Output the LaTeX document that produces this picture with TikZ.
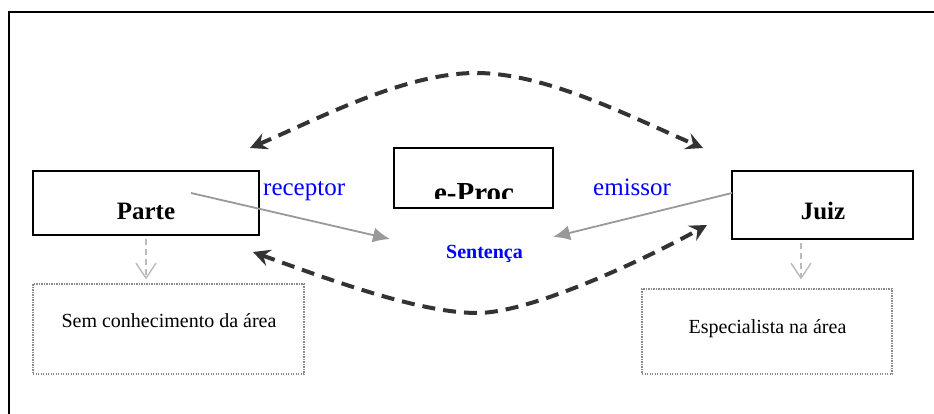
\documentclass[tikz,border=0pt]{standalone}
\usepackage{fontspec}
\setmainfont{Liberation Serif}
\usetikzlibrary{arrows.meta}
\definecolor{darkline}{HTML}{333333}
\definecolor{grayarrow}{HTML}{999999}
\definecolor{lightarrow}{HTML}{BBBBBB}
\definecolor{dotgray}{HTML}{8A8A8A}
\definecolor{textblue}{HTML}{0000FF}
\tikzset{
  mainbox/.style={draw=black, line width=1.6pt, rectangle, inner sep=0pt},
  dotbox/.style={draw=dotgray, line width=1.2pt, dash pattern=on 1.2pt off 1.3pt, rectangle, inner sep=0pt},
  txt/.style={inner sep=0pt, anchor=base},
  bigbold/.style={font=\fontsize{25}{30}\selectfont\bfseries},
  bluelabel/.style={font=\fontsize{25}{30}\selectfont, text=textblue},
  smalltxt/.style={font=\fontsize{20}{24}\selectfont},
  flowarrow/.style={draw=grayarrow, line width=1.8pt, -{Latex[length=17pt,width=15pt]}},
  downarrow/.style={draw=lightarrow, line width=1.4pt, dash pattern=on 6pt off 4pt, -{Straight Barb[length=15pt,width=20pt,line width=1.4pt]}},
  exchange/.style={draw=darkline, line width=4pt, dash pattern=on 13pt off 8pt, {Stealth[length=17pt,width=17pt,inset=6pt]}-{Stealth[length=17pt,width=17pt,inset=6pt]}}
}
\begin{document}
\begin{tikzpicture}[x=1pt,y=-1pt]
\useasboundingbox (0,0) rectangle (934,414);
% frame
\draw[line width=1.6pt, black] (9,414) -- (9,12) -- (934,12);

% boxes
\node[mainbox, minimum width=226pt, minimum height=64pt] (parte) at (146,203) {};
\node[mainbox, minimum width=181pt, minimum height=68pt] (juiz) at (822.5,205) {};
\node[mainbox, minimum width=159pt, minimum height=60pt] (eproc) at (473.5,178) {};
\node[dotbox, minimum width=271pt, minimum height=90pt] (sem) at (168.5,329) {};
\node[dotbox, minimum width=250pt, minimum height=85pt] (esp) at (767,331.5) {};

% texts
\node[txt, bigbold] (partetxt) at (146,219) {Parte};
\node[txt, bigbold] (juiztxt) at (823,219) {Juiz};
\begin{scope}
  \clip (394,150) rectangle (553,199);
  \node[txt, font=\fontsize{29}{34}\selectfont\bfseries] (eproctxt) at (474,203) {e-Proc};
\end{scope}
\node[txt, bluelabel, anchor=base west] (receptor) at (263,196) {receptor};
\node[txt, bluelabel, anchor=base west] (emissor) at (593,196) {emissor};
\node[txt, anchor=base west, font=\fontsize{20}{24}\selectfont\bfseries, text=textblue] (sentenca) at (446,258) {Sentença};
\node[txt, smalltxt] (semtxt) at (169,327) {Sem conhecimento da área};
\node[txt, smalltxt] (esptxt) at (767.5,333) {Especialista na área};

% connector points
\coordinate (pstart) at (191,193);
\coordinate (pend) at (390,239);
\coordinate (jstart) at (732,193);
\coordinate (jend) at (553,237);
\coordinate (tl) at (250,148);
\coordinate (tr) at (703,148);
\coordinate (tp) at (476,73);
\coordinate (bl) at (253,252);
\coordinate (br) at (707,225);
\coordinate (bp) at (477,313);
\coordinate (jdown) at ([xshift=-21.5pt]juiz.south);

% gray flow arrows
\draw[flowarrow] (pstart) -- (pend);
\draw[flowarrow] (jstart) -- (jend);

% light dashed down arrows
\draw[downarrow, shorten <=3pt, shorten >=4pt] (parte.south) -- (parte.south |- sem.north);
\draw[downarrow, shorten <=3pt, shorten >=9pt] (jdown) -- (jdown |- esp.north);

% dark dashed exchange curves
\draw[exchange] (tl) .. controls (320,118) and (405,73) .. (tp) .. controls (547,73) and (633,118) .. (tr);
\draw[exchange] (bl) .. controls (330,280) and (420,313) .. (bp) .. controls (530,313) and (640,262) .. (br);
\end{tikzpicture}
\end{document}
